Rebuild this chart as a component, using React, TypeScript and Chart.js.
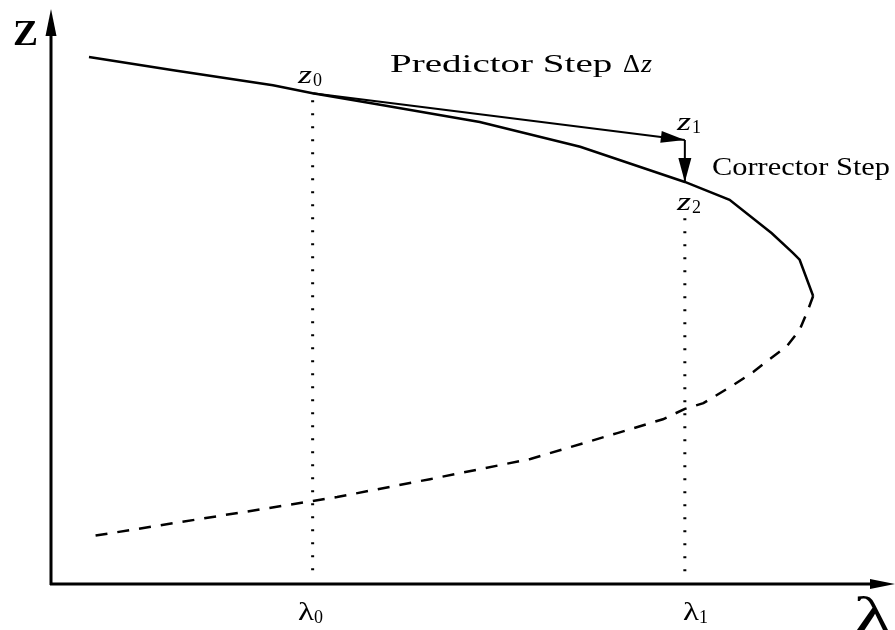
import React, { useEffect, useRef } from "react";
import { Chart, registerables } from "chart.js";

Chart.register(...registerables);

// Upper (stable) branch of the solution curve: λ, z
const upperLambda = [0.45, 1.45, 2.63, 3.1, 3.9, 5.08, 6.27, 7.51, 8.04, 8.54, 8.79, 8.87, 9.03];
const upperZ = [9.15, 8.92, 8.66, 8.52, 8.32, 8.02, 7.59, 6.98, 6.67, 6.09, 5.75, 5.63, 5.0];

// Lower (unstable) branch, dashed
const lowerLambda = [9.03, 8.97, 8.87, 8.72, 8.52, 8.32, 8.08, 7.73, 7.51, 7.25, 6.71, 5.68, 4.49, 3.39, 3.1, 0.44];
const lowerZ = [5.0, 4.76, 4.41, 4.13, 3.91, 3.68, 3.45, 3.14, 3.04, 2.86, 2.62, 2.17, 1.82, 1.51, 1.44, 0.82];

// Parameter marks λ0, λ1 and their dotted guide extents
const markLambda = [3.1, 7.51];
const markTopZ = [8.4, 6.35];
const markBottomZ = [0.21, 0.07];
const markLabels = ["0", "1"];

// Predictor step (z0 -> z1) and corrector step (z1 -> z2)
const predictorLambda = [3.1, 7.51];
const predictorZ = [8.52, 7.71];
const correctorLambda = [7.51, 7.51];
const correctorZ = [7.71, 6.98];

const SERIF = '"Liberation Serif", "Times New Roman", serif';

function fitText(ctx: CanvasRenderingContext2D, text: string, x: number, y: number, font: string, width: number) {
  ctx.save();
  ctx.font = font;
  const w = ctx.measureText(text).width || 1;
  ctx.translate(x, y);
  ctx.scale(width / w, 1);
  ctx.textAlign = "left";
  ctx.textBaseline = "alphabetic";
  ctx.fillText(text, 0, 0);
  ctx.restore();
}

function arrowHead(ctx: CanvasRenderingContext2D, tx: number, ty: number, fx: number, fy: number, len: number, half: number) {
  const a = Math.atan2(ty - fy, tx - fx);
  const bx = tx - Math.cos(a) * len;
  const by = ty - Math.sin(a) * len;
  const nx = -Math.sin(a) * half;
  const ny = Math.cos(a) * half;
  ctx.beginPath();
  ctx.moveTo(tx, ty);
  ctx.lineTo(bx + nx, by + ny);
  ctx.lineTo(bx - nx, by - ny);
  ctx.closePath();
  ctx.fill();
}

const decorPlugin = {
  id: "decor",
  afterDatasetsDraw(chart: any) {
    const ctx: CanvasRenderingContext2D = chart.ctx;
    const xs = chart.scales.x;
    const ys = chart.scales.y;
    const area = chart.chartArea;
    const px = (v: number) => xs.getPixelForValue(v);
    const py = (v: number) => ys.getPixelForValue(v);
    ctx.save();
    ctx.fillStyle = "#000";
    ctx.strokeStyle = "#000";

    // axes
    const ox = area.left;
    const oy = area.bottom;
    ctx.lineWidth = 3;
    ctx.beginPath();
    ctx.moveTo(ox, oy + 1);
    ctx.lineTo(ox, area.top + 20);
    ctx.moveTo(ox - 1, oy);
    ctx.lineTo(area.right - 20, oy);
    ctx.stroke();
    arrowHead(ctx, ox, area.top + 1, ox, oy, 27, 5.5);
    arrowHead(ctx, area.right, oy, ox, oy, 25, 5);

    // step arrowheads
    arrowHead(ctx, px(predictorLambda[1]), py(predictorZ[1]), px(predictorLambda[0]), py(predictorZ[0]), 24, 6);
    arrowHead(ctx, px(correctorLambda[1]), py(correctorZ[1]), px(correctorLambda[0]), py(correctorZ[0]), 24, 6.5);

    // axis labels
    fitText(ctx, "Z", 13, 45, `bold 36px ${SERIF}`, 25);
    fitText(ctx, "λ", 853, 633, `52px ${SERIF}`, 40);

    // λ0, λ1 tick labels
    const lamLeft = [298, 683];
    markLambda.forEach((_, i) => {
      const x0 = lamLeft[i];
      fitText(ctx, "λ", x0, 620, `26px ${SERIF}`, 16);
      fitText(ctx, markLabels[i], x0 + 16, 623, `18px ${SERIF}`, 9);
    });

    // z labels
    const zl = (sub: string, x: number, y: number) => {
      fitText(ctx, "z", x, y, `italic 25px ${SERIF}`, 14);
      fitText(ctx, sub, x + 15, y + 3, `18px ${SERIF}`, 9);
    };
    zl("0", 298, 83);
    zl("1", 677, 130);
    zl("2", 677, 210);

    // step captions
    fitText(ctx, "Predictor Step ", 390, 72, `26px ${SERIF}`, 232);
    fitText(ctx, "Δ", 623, 72, `26px ${SERIF}`, 17);
    fitText(ctx, "z", 641, 72, `italic 25px ${SERIF}`, 11);
    fitText(ctx, "Corrector Step", 712, 175, `25px ${SERIF}`, 178);

    ctx.restore();
  },
};

export default function App() {
  const ref = useRef<HTMLCanvasElement | null>(null);
  useEffect(() => {
    if (!ref.current) return;
    const toPts = (xs: number[], ys: number[]) => xs.map((x, i) => ({ x, y: ys[i] }));
    const datasets: any[] = [
      {
        label: "stable",
        data: toPts(upperLambda, upperZ),
        borderColor: "#000",
        borderWidth: 2.5,
        showLine: true,
        pointRadius: 0,
        tension: 0,
      },
      {
        label: "unstable",
        data: toPts(lowerLambda, lowerZ),
        borderColor: "#000",
        borderWidth: 2.5,
        borderDash: [12, 10],
        showLine: true,
        pointRadius: 0,
        tension: 0,
      },
      ...markLambda.map((l, i) => ({
        label: "lambda" + i,
        data: [
          { x: l, y: markTopZ[i] },
          { x: l, y: markBottomZ[i] },
        ],
        borderColor: "#000",
        borderWidth: 3,
        borderDash: [2, 11],
        showLine: true,
        pointRadius: 0,
      })),
      {
        label: "predictor",
        data: toPts(predictorLambda, predictorZ),
        borderColor: "#000",
        borderWidth: 2,
        showLine: true,
        pointRadius: 0,
      },
      {
        label: "corrector",
        data: toPts(correctorLambda, correctorZ),
        borderColor: "#000",
        borderWidth: 2,
        showLine: true,
        pointRadius: 0,
      },
    ];
    const chart = new Chart(ref.current, {
      type: "scatter",
      data: { datasets },
      options: {
        animation: false,
        responsive: false,
        devicePixelRatio: 1,
        layout: { padding: { left: 51, right: 0, top: 8, bottom: 46 } },
        plugins: { legend: { display: false }, tooltip: { enabled: false } },
        scales: {
          x: { type: "linear", min: 0, max: 10, display: false },
          y: { type: "linear", min: 0, max: 10, display: false },
        },
      },
      plugins: [decorPlugin],
    });
    return () => chart.destroy();
  }, []);
  return (
    <div style={{ position: "absolute", left: 0, top: 0, width: 895, height: 630, background: "#fff" }}>
      <canvas ref={ref} width={895} height={630} />
    </div>
  );
}
